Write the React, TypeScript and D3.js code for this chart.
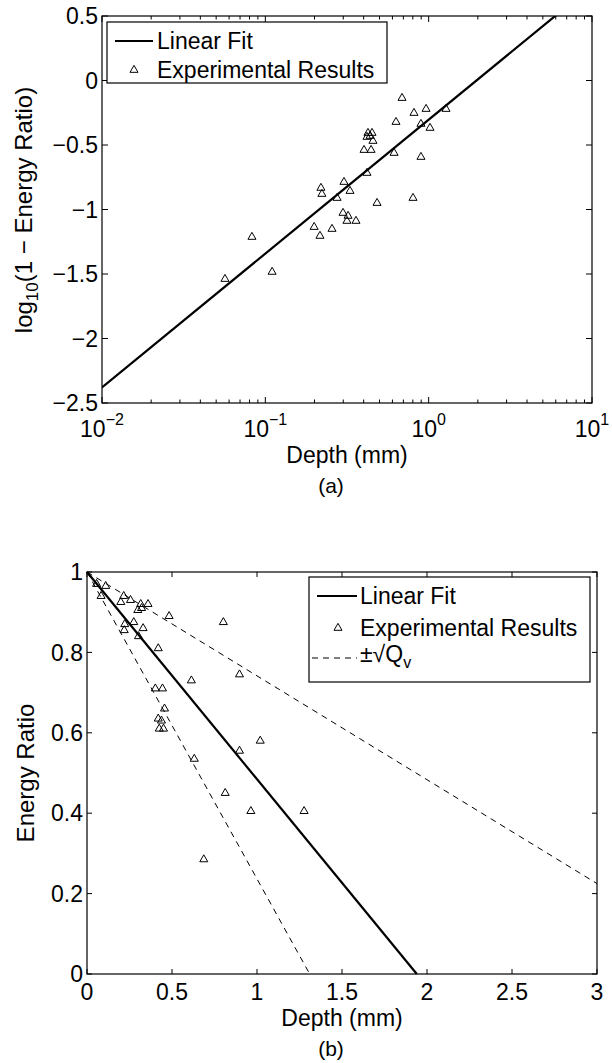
import React, { useEffect, useRef } from 'react';
import * as d3 from 'd3';

// ---- panel (a): log10(1 - energy ratio) against depth, log x axis ----
const depthA = [0.687, 0.813, 0.964, 1.277, 0.631, 0.897, 1.019, 0.425, 0.450, 0.419, 0.438, 0.456,
  0.402, 0.444, 0.614, 0.897, 0.419, 0.303, 0.330, 0.219, 0.222, 0.275, 0.483, 0.802, 0.299, 0.321,
  0.316, 0.359, 0.199, 0.256, 0.216, 0.0828, 0.110, 0.0566];
const logRatioA = [-0.136, -0.252, -0.221, -0.221, -0.322, -0.337, -0.368, -0.407, -0.407, -0.438, -0.430, -0.469,
  -0.539, -0.539, -0.562, -0.593, -0.717, -0.787, -0.857, -0.833, -0.880, -0.911, -0.950, -0.911, -1.027, -1.050,
  -1.089, -1.089, -1.136, -1.151, -1.205, -1.213, -1.484, -1.539];
const fitDepthA = [0.01, 10];
const fitValueA = [-2.38, 0.734];
const xTicksA = [0.01, 0.1, 1, 10];
const xTickExpA = ['\u22122', '\u22121', '0', '1'];
const yTicksA = [0.5, 0, -0.5, -1, -1.5, -2, -2.5];
const yTickLabelsA = ['0.5', '0', '\u22120.5', '\u22121', '\u22121.5', '\u22122', '\u22122.5'];

// ---- panel (b): energy ratio against depth ----
const depthB = [0.687, 0.813, 0.964, 1.277, 0.631, 0.897, 1.019, 0.425, 0.450, 0.419, 0.438, 0.456,
  0.402, 0.444, 0.614, 0.897, 0.419, 0.303, 0.330, 0.219, 0.222, 0.275, 0.483, 0.802, 0.299, 0.321,
  0.316, 0.359, 0.199, 0.256, 0.216, 0.0828, 0.110, 0.0566];
const ratioB = [0.285, 0.45, 0.405, 0.405, 0.535, 0.555, 0.58, 0.61, 0.61, 0.635, 0.63, 0.66,
  0.71, 0.71, 0.73, 0.745, 0.81, 0.84, 0.86, 0.855, 0.87, 0.875, 0.89, 0.875, 0.905, 0.91,
  0.92, 0.92, 0.925, 0.93, 0.94, 0.94, 0.965, 0.97];
const fitDepthB = [0, 1.94];
const fitValueB = [1, 0];
const upperDepthB = [0, 3];
const upperValueB = [1, 0.225];
const lowerDepthB = [0, 1.31];
const lowerValueB = [1, 0];
const xTicksB = [0, 0.5, 1, 1.5, 2, 2.5, 3];
const yTicksB = [0, 0.2, 0.4, 0.6, 0.8, 1];

const font = '"Liberation Sans", Arial, Helvetica, sans-serif';
const tickFont = 23;

function drawA(svg) {
  const m = { left: 102, right: 592, top: 16, bottom: 403 };
  const x = d3.scaleLog().domain([0.01, 10]).range([m.left, m.right]);
  const y = d3.scaleLinear().domain([-2.5, 0.5]).range([m.bottom, m.top]);
  const g = svg.append('g');

  svg.append('defs').append('clipPath').attr('id', 'clipA')
    .append('rect').attr('x', m.left).attr('y', m.top)
    .attr('width', m.right - m.left).attr('height', m.bottom - m.top);

  // minor + major ticks, inward on all four sides
  const minor = [];
  [0.01, 0.1, 1].forEach(d => { for (let k = 2; k <= 9; k++) minor.push(d * k); });
  minor.forEach(v => {
    g.append('line').attr('x1', x(v)).attr('x2', x(v)).attr('y1', m.bottom).attr('y2', m.bottom - 3.5).attr('stroke', '#000');
    g.append('line').attr('x1', x(v)).attr('x2', x(v)).attr('y1', m.top).attr('y2', m.top + 3.5).attr('stroke', '#000');
  });
  xTicksA.forEach((v, i) => {
    g.append('line').attr('x1', x(v)).attr('x2', x(v)).attr('y1', m.bottom).attr('y2', m.bottom - 6).attr('stroke', '#000');
    g.append('line').attr('x1', x(v)).attr('x2', x(v)).attr('y1', m.top).attr('y2', m.top + 6).attr('stroke', '#000');
    const t = g.append('text').attr('x', x(v)).attr('y', 437).attr('text-anchor', 'middle')
      .attr('font-family', font).attr('font-size', tickFont);
    t.append('tspan').text('10');
    t.append('tspan').attr('dy', -12).attr('font-size', 16).text(xTickExpA[i]);
  });
  yTicksA.forEach((v, i) => {
    g.append('line').attr('x1', m.left).attr('x2', m.left + 6).attr('y1', y(v)).attr('y2', y(v)).attr('stroke', '#000');
    g.append('line').attr('x1', m.right).attr('x2', m.right - 6).attr('y1', y(v)).attr('y2', y(v)).attr('stroke', '#000');
    g.append('text').attr('x', m.left - 4).attr('y', y(v)).attr('dy', '0.36em').attr('text-anchor', 'end')
      .attr('font-family', font).attr('font-size', tickFont).text(yTickLabelsA[i]);
  });

  const line = d3.line().x(d => x(d[0])).y(d => y(d[1]));
  g.append('path').datum(d3.zip(fitDepthA, fitValueA)).attr('d', line)
    .attr('clip-path', 'url(#clipA)').attr('fill', 'none').attr('stroke', '#000').attr('stroke-width', 2.2);

  const tri = d3.symbol(d3.symbolTriangle, 28);
  g.selectAll('path.pt').data(d3.zip(depthA, logRatioA)).enter().append('path')
    .attr('class', 'pt').attr('d', tri)
    .attr('transform', d => `translate(${x(d[0])},${y(d[1])})`)
    .attr('fill', 'none').attr('stroke', '#000').attr('stroke-width', 1);

  g.append('rect').attr('x', m.left).attr('y', m.top).attr('width', m.right - m.left).attr('height', m.bottom - m.top)
    .attr('fill', 'none').attr('stroke', '#000').attr('stroke-width', 1.2);

  // legend
  const lg = g.append('g');
  lg.append('rect').attr('x', 107).attr('y', 22).attr('width', 280).attr('height', 61)
    .attr('fill', '#fff').attr('stroke', '#000').attr('stroke-width', 1.2);
  lg.append('line').attr('x1', 115).attr('x2', 153).attr('y1', 41).attr('y2', 41).attr('stroke', '#000').attr('stroke-width', 2.2);
  lg.append('text').attr('x', 157).attr('y', 49).attr('font-family', font).attr('font-size', tickFont).text('Linear Fit');
  lg.append('path').attr('d', tri).attr('transform', 'translate(134,70)').attr('fill', 'none').attr('stroke', '#000');
  lg.append('text').attr('x', 157).attr('y', 78).attr('font-family', font).attr('font-size', tickFont).text('Experimental Results');

  // axis labels
  g.append('text').attr('x', 347).attr('y', 463).attr('text-anchor', 'middle')
    .attr('font-family', font).attr('font-size', 23).text('Depth (mm)');
  const yl = g.append('text').attr('transform', 'translate(32,210) rotate(-90)').attr('text-anchor', 'middle')
    .attr('font-family', font).attr('font-size', 24);
  yl.append('tspan').text('log');
  yl.append('tspan').attr('dy', 6).attr('font-size', 17).text('10');
  yl.append('tspan').attr('dy', -6).text('(1 \u2212 Energy Ratio)');
  g.append('text').attr('x', 331).attr('y', 493).attr('text-anchor', 'middle')
    .attr('font-family', font).attr('font-size', 21).text('(a)');
}

function drawB(svg) {
  const m = { left: 87, right: 597, top: 572, bottom: 974 };
  const x = d3.scaleLinear().domain([0, 3]).range([m.left, m.right]);
  const y = d3.scaleLinear().domain([0, 1]).range([m.bottom, m.top]);
  const g = svg.append('g');

  xTicksB.forEach(v => {
    g.append('line').attr('x1', x(v)).attr('x2', x(v)).attr('y1', m.bottom).attr('y2', m.bottom - 5).attr('stroke', '#000');
    g.append('line').attr('x1', x(v)).attr('x2', x(v)).attr('y1', m.top).attr('y2', m.top + 5).attr('stroke', '#000');
    g.append('text').attr('x', x(v)).attr('y', 1000).attr('text-anchor', 'middle')
      .attr('font-family', font).attr('font-size', tickFont).text(String(v));
  });
  yTicksB.forEach(v => {
    g.append('line').attr('x1', m.left).attr('x2', m.left + 5).attr('y1', y(v)).attr('y2', y(v)).attr('stroke', '#000');
    g.append('line').attr('x1', m.right).attr('x2', m.right - 5).attr('y1', y(v)).attr('y2', y(v)).attr('stroke', '#000');
    g.append('text').attr('x', m.left - 4).attr('y', y(v)).attr('dy', '0.36em').attr('text-anchor', 'end')
      .attr('font-family', font).attr('font-size', tickFont).text(String(v));
  });

  const line = d3.line().x(d => x(d[0])).y(d => y(d[1]));
  g.append('path').datum(d3.zip(upperDepthB, upperValueB)).attr('d', line)
    .attr('fill', 'none').attr('stroke', '#000').attr('stroke-width', 1).attr('stroke-dasharray', '6,5');
  g.append('path').datum(d3.zip(lowerDepthB, lowerValueB)).attr('d', line)
    .attr('fill', 'none').attr('stroke', '#000').attr('stroke-width', 1).attr('stroke-dasharray', '6,5');
  g.append('path').datum(d3.zip(fitDepthB, fitValueB)).attr('d', line)
    .attr('fill', 'none').attr('stroke', '#000').attr('stroke-width', 2.2);

  const tri = d3.symbol(d3.symbolTriangle, 28);
  g.selectAll('path.pt').data(d3.zip(depthB, ratioB)).enter().append('path')
    .attr('class', 'pt').attr('d', tri)
    .attr('transform', d => `translate(${x(d[0])},${y(d[1])})`)
    .attr('fill', 'none').attr('stroke', '#000').attr('stroke-width', 1);

  g.append('rect').attr('x', m.left).attr('y', m.top).attr('width', m.right - m.left).attr('height', m.bottom - m.top)
    .attr('fill', 'none').attr('stroke', '#000').attr('stroke-width', 1.2);

  // legend
  const lg = g.append('g');
  lg.append('rect').attr('x', 309).attr('y', 577).attr('width', 281).attr('height', 105)
    .attr('fill', '#fff').attr('stroke', '#000').attr('stroke-width', 1.2);
  lg.append('line').attr('x1', 317).attr('x2', 357).attr('y1', 596).attr('y2', 596).attr('stroke', '#000').attr('stroke-width', 2.2);
  lg.append('text').attr('x', 360).attr('y', 604).attr('font-family', font).attr('font-size', tickFont).text('Linear Fit');
  lg.append('path').attr('d', tri).attr('transform', 'translate(338,628)').attr('fill', 'none').attr('stroke', '#000');
  lg.append('text').attr('x', 360).attr('y', 636).attr('font-family', font).attr('font-size', tickFont).text('Experimental Results');
  lg.append('line').attr('x1', 312).attr('x2', 357).attr('y1', 658).attr('y2', 658).attr('stroke', '#000')
    .attr('stroke-dasharray', '6,5');
  const q = lg.append('text').attr('x', 360).attr('y', 662).attr('font-family', font).attr('font-size', tickFont);
  q.append('tspan').text('\u00B1\u221AQ');
  q.append('tspan').attr('dy', 6).attr('font-size', 16).text('v');

  g.append('text').attr('x', 342).attr('y', 1026).attr('text-anchor', 'middle')
    .attr('font-family', font).attr('font-size', 23).text('Depth (mm)');
  g.append('text').attr('transform', `translate(34,${(m.top + m.bottom) / 2}) rotate(-90)`).attr('text-anchor', 'middle')
    .attr('font-family', font).attr('font-size', 24).text('Energy Ratio');
  g.append('text').attr('x', 331).attr('y', 1056).attr('text-anchor', 'middle')
    .attr('font-family', font).attr('font-size', 21).text('(b)');
}

export default function App() {
  const ref = useRef(null);
  useEffect(() => {
    const svg = d3.select(ref.current);
    svg.selectAll('*').remove();
    drawA(svg);
    drawB(svg);
  }, []);
  return (
    <div style={{ position: 'absolute', left: 0, top: 0 }}>
      <svg ref={ref} width={612} height={1063} style={{ display: 'block', background: '#fff' }} />
    </div>
  );
}
